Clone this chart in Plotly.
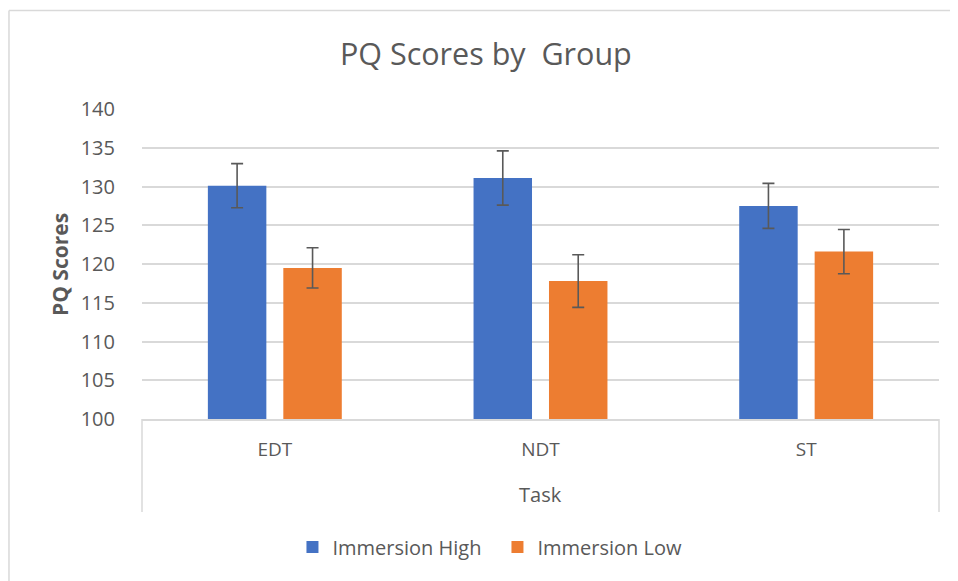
import plotly.graph_objects as go

tasks = ["EDT", "NDT", "ST"]
high_vals = [130.1, 131.1, 127.5]
high_err = [2.85, 3.5, 2.9]
low_vals = [119.5, 117.8, 121.6]
low_err = [2.6, 3.4, 2.85]
y_ticks = [100, 105, 110, 115, 120, 125, 130, 135, 140]

TXT = "#595959"
GRID = "#d9d9d9"
FONT = "Open Sans"

fig = go.Figure()
fig.add_trace(go.Bar(
    x=tasks, y=high_vals, name="Immersion High",
    marker=dict(color="#4472C4", line=dict(width=0)),
    error_y=dict(type="data", array=high_err, visible=True,
                 color=TXT, thickness=1.6, width=6),
))
fig.add_trace(go.Bar(
    x=tasks, y=low_vals, name="Immersion Low",
    marker=dict(color="#ED7D31", line=dict(width=0)),
    error_y=dict(type="data", array=low_err, visible=True,
                 color=TXT, thickness=1.6, width=6),
))

shapes = [
    # outer chart border (top and left)
    dict(type="line", xref="paper", yref="paper", x0=-0.1669, x1=1.03, y0=1.3174, y1=1.3174,
         line=dict(color=GRID, width=1.5)),
    dict(type="line", xref="paper", yref="paper", x0=-0.1669, x1=-0.1669, y0=1.3174, y1=-0.55,
         line=dict(color=GRID, width=1.5)),
    # category box sides
    dict(type="line", xref="paper", yref="paper", x0=0, x1=0, y0=0, y1=-0.300,
         line=dict(color=GRID, width=1.5)),
    dict(type="line", xref="paper", yref="paper", x0=1, x1=1, y0=0, y1=-0.300,
         line=dict(color=GRID, width=1.5)),
]

fig.update_layout(
    width=950, height=573,
    margin=dict(l=134, r=19, t=101, b=162),
    paper_bgcolor="white", plot_bgcolor="white",
    font=dict(family=FONT, color=TXT),
    title=dict(text="PQ Scores by  Group", x=0.503, xanchor="center", y=0.92, yanchor="middle",
               font=dict(size=30.5, color=TXT, family=FONT)),
    barmode="group", bargap=0.432, bargroupgap=0.225,
    showlegend=True,
    legend=dict(orientation="h", x=0.446, xanchor="center", y=-0.413, yanchor="middle",
                font=dict(size=20, color=TXT, family=FONT), itemwidth=30,
                entrywidth=160, entrywidthmode="pixels",
                traceorder="normal"),
    shapes=shapes,
    annotations=[
        dict(text="Task", xref="paper", yref="paper", x=0.5, y=-0.243,
             showarrow=False, xanchor="center", yanchor="middle",
             font=dict(size=20, color=TXT, family=FONT)),
        dict(text="<b>PQ Scores</b>", xref="paper", yref="paper", x=-0.1029, y=0.5,
             textangle=-90, showarrow=False, xanchor="center", yanchor="middle",
             font=dict(size=21, color=TXT, family=FONT)),
    ],
)
fig.update_xaxes(
    showline=True, linecolor=GRID, linewidth=1.5, ticks="", showgrid=False,
    tickfont=dict(size=19, color=TXT, family=FONT), ticklabelstandoff=12,
)
fig.update_yaxes(
    range=[100, 140], tickvals=y_ticks, showgrid=True, gridcolor=GRID, gridwidth=1.5,
    zeroline=False, showline=False, ticks="",
    tickfont=dict(size=20, color=TXT, family=FONT), ticklabelstandoff=26,
)

fig.write_html("out.html")
